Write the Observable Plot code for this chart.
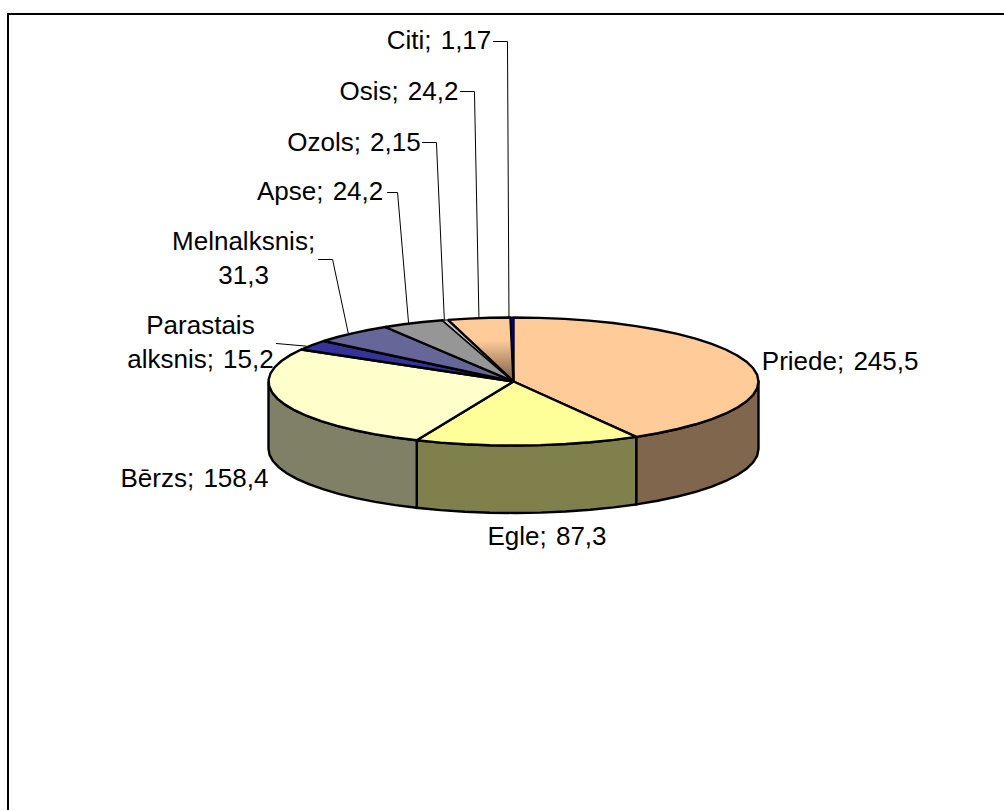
<!DOCTYPE html>
<html>
<head>
<meta charset="utf-8">
<script src="https://cdn.jsdelivr.net/npm/d3@7"></script>
<script src="https://cdn.jsdelivr.net/npm/@observablehq/plot@0.6"></script>
<style>
  html, body { margin: 0; padding: 0; background: #fff; }
  svg { display: block; }
  svg text { word-spacing: 2px; }
</style>
</head>
<body>
<div id="chart"></div>
<script>
// Forest stand volume by tree species
const species = ["Priede", "Egle", "Bērzs", "Parastais alksnis", "Melnalksnis", "Apse", "Ozols", "Osis", "Citi"];
const volumes = [245.5, 87.3, 158.4, 15.2, 31.3, 24.2, 2.15, 24.2, 1.17];
const labelText = [
  "Priede; 245,5", "Egle; 87,3", "Bērzs; 158,4", "Parastais\nalksnis; 15,2", "Melnalksnis;\n31,3",
  "Apse; 24,2", "Ozols; 2,15", "Osis; 24,2", "Citi; 1,17"
];
const topColors = ["#FFCC99", "#FFFF99", "#FFFFCC", "#333399", "#666699", "#969696", "#C0C0C0", "url(#osisShade)", "#000080"];
const wallColors = ["#80664D", "#80804D", "#808066", "#1A1A4D", "#33334D", "#4B4B4B", "#606060", "#80664D", "#000040"];

// Label placement, relative to the point of the rim at each slice's middle
const labelOffsets = [[90, -3], [19, 91], [-86.5, 77], [-111.5, -2.6], [-108.7, -74.8], [-93, -131.6], [-91.4, -177.5], [-80, -226.6], [-73, -277]];
// Leader paths for the narrow slices: beside the text, the elbow, then the rim
const leaderOffsets = {
  "Parastais alksnis": [[-35.5, -1.6], [-6, 1]],
  "Melnalksnis": [[-33.7, -73.8], [-19.7, -73.8], [-4, 0]],
  "Apse": [[-25.5, -130.6], [-15.5, -130.6], [-4.5, 0]],
  "Ozols": [[-22.9, -177.5], [-8.9, -177.5], [-1, 0]],
  "Osis": [[-18.5, -226.6], [-4.5, -226.6], [0, 0]],
  "Citi": [[-18.5, -276], [-4.5, -276], [-3, 0]]
};

// Tilted disc geometry
const cx = 513, cy = 381, rx = 245, ry = 64, depth = 67.5;
const rimStep = 6 * Math.PI / 180;

const project = (a, drop = 0) => [cx + rx * Math.sin(a), cy - ry * Math.cos(a) + drop];
const arcs = d3.pie().sort(null)(volumes);

function rim(a0, a1, drop = 0) {
  const n = Math.max(1, Math.ceil((a1 - a0) / rimStep));
  return d3.range(n + 1).map(i => project(a0 + (a1 - a0) * i / n, drop));
}

// Top face of each slice, closed through the centre
const topFaces = arcs.map(s => [[cx, cy], ...rim(s.startAngle, s.endAngle), [cx, cy]]);

// Visible outer wall: only the part of the rim facing the viewer
const walls = arcs.map(s => {
  const a0 = Math.max(s.startAngle, Math.PI / 2), a1 = Math.min(s.endAngle, Math.PI * 3 / 2);
  if (a0 >= a1) return null;
  const upper = rim(a0, a1), lower = rim(a0, a1, depth).reverse();
  return [...upper, ...lower, upper[0]];
});

const rimMid = arcs.map(s => project((s.startAngle + s.endAngle) / 2));

const labels = species.map((name, i) => ({
  text: labelText[i],
  x: rimMid[i][0] + labelOffsets[i][0],
  y: rimMid[i][1] + labelOffsets[i][1]
}));

const leaders = species.flatMap((name, i) => {
  const path = leaderOffsets[name];
  if (!path) return [];
  const [mx, my] = rimMid[i];
  return [path.map(([dx, dy]) => [mx + dx, my + dy])];
});

// The thinnest slices get a finer outline so their colour stays visible
const outlineWidth = i => (volumes[i] < 3 ? 1 : 2.4);

const polygon = (points, fill, strokeWidth = 2.4) =>
  Plot.line(points, { x: "0", y: "1", fill, stroke: "#000", strokeWidth, strokeLinejoin: "miter", strokeMiterlimit: 2, curve: "linear" });

const shading = () => {
  const ns = "http://www.w3.org/2000/svg";
  const defs = document.createElementNS(ns, "defs");
  const grad = document.createElementNS(ns, "linearGradient");
  grad.setAttribute("id", "osisShade");
  grad.setAttribute("x1", "0"); grad.setAttribute("y1", "0");
  grad.setAttribute("x2", "0"); grad.setAttribute("y2", "1");
  [["0.35", "#FFCC99"], ["1", "#7A5C44"]].forEach(([o, c]) => {
    const stop = document.createElementNS(ns, "stop");
    stop.setAttribute("offset", o);
    stop.setAttribute("stop-color", c);
    grad.appendChild(stop);
  });
  defs.appendChild(grad);
  return defs;
};

const chart = Plot.plot({
  width: 1004,
  height: 810,
  margin: 0,
  style: { background: "#fff", fontFamily: "'Liberation Sans', Arial, sans-serif" },
  x: { domain: [0, 1004], range: [0, 1004], axis: null },
  y: { domain: [0, 810], range: [0, 810], axis: null },
  marks: [
    shading,
    Plot.ruleY([13.5], { x1: 7, x2: 1004, stroke: "#000", strokeWidth: 2 }),
    Plot.ruleX([7.5], { y1: 13, y2: 810, stroke: "#000", strokeWidth: 2 }),
    ...walls.map((w, i) => w && polygon(w, wallColors[i])),
    ...topFaces.map((f, i) => polygon(f, topColors[i], outlineWidth(i))),
    ...leaders.map(l => Plot.line(l, { x: "0", y: "1", stroke: "#000", strokeWidth: 1, curve: "linear" })),
    Plot.text(labels, {
      x: "x", y: "y", text: "text", dy: -2.5,
      fontSize: 26, lineHeight: 1.31, fill: "#000", textAnchor: "middle", lineAnchor: "middle"
    })
  ]
});
document.getElementById("chart").appendChild(chart);
</script>
</body>
</html>
